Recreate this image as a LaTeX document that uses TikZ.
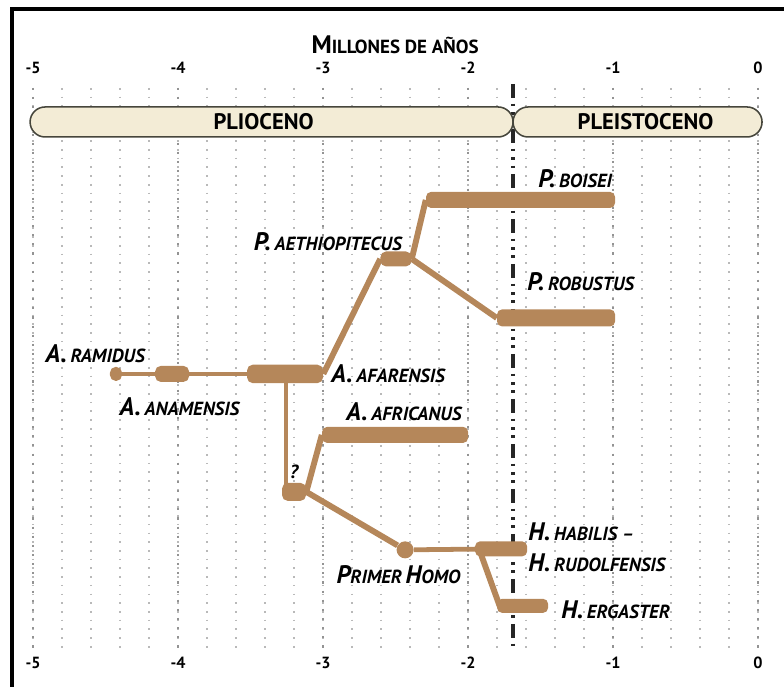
\documentclass[tikz,border=0pt]{standalone}
\usepackage{fontspec}
\setmainfont{PT Sans}
\usetikzlibrary{shapes.misc}
\definecolor{hominid}{RGB}{181,135,90}
\definecolor{epochfill}{RGB}{243,236,214}
\definecolor{epochline}{RGB}{70,70,60}
\newcommand{\bigc}[1]{{\fontsize{18}{18}\selectfont #1}}
\newcommand{\smc}[1]{{\fontsize{13.5}{14}\selectfont #1}}
\newcommand{\taxon}[2]{\bigc{#1} \smc{#2}}
\tikzset{
  blob/.style={fill=hominid,rounded corners=4pt,inner sep=0pt},
  bar/.style={fill=hominid,rounded corners=3.5pt,inner sep=0pt},
  branch/.style={draw=hominid,line width=4.2pt},
  thinbranch/.style={draw=hominid,line width=3.4pt},
  taxa/.style={font=\bfseries\itshape,inner sep=0pt},
  epoch/.style={rounded rectangle,draw=epochline,fill=epochfill,line width=1.1pt,
    minimum height=0.75cm,inner sep=0pt,font=\bfseries\fontsize{16}{16}\selectfont},
  num/.style={font=\bfseries\fontsize{11.5}{12}\selectfont,inner sep=0pt},
  gridline/.style={draw=gray!55,line width=0.8pt,dash pattern=on 1.2pt off 5pt},
  majorline/.style={draw=gray!85,line width=1.2pt,dash pattern=on 1.5pt off 5pt},
  boundary/.style={draw=black!85,line width=2.2pt,
    dash pattern=on 10pt off 4pt on 2pt off 4pt on 2pt off 4pt on 2pt off 4pt},
  frame/.style={draw=black,line width=2.2pt}
}
\begin{document}
\begin{tikzpicture}[x=3.625cm,y={(0,-0.025cm)}]
\useasboundingbox (-5.228,0) rectangle (0.179,687);
% frame
\draw[frame] (-5.145,687) -- (-5.145,9) -- (0.179,9);
% grid
\foreach \i in {0,...,25}
  \draw[gridline] ({-5+0.2*\i},88) -- ({-5+0.2*\i},650);
\foreach \t in {-5,...,0}
  \draw[majorline] (\t,88) -- (\t,650);
% axis
\node[font=\bfseries,inner sep=0pt] (title) at (-2.503,45) {\bigc{M}\fontsize{13.5}{14}\selectfont ILLONES DE AÑOS};
\foreach \t [count=\i] in {-5,...,0} {
  \node[num] (ntop\i) at (\t,68) {\t};
  \node[num] (nbot\i) at (\t,663) {\t};
}
% epochs
\draw[boundary] (-1.69,84) -- (-1.69,652);
\node[epoch,minimum width=12.075cm] (plio) at (-3.355,122) {PLIOCENO\hspace*{0.4cm}};
\node[epoch,minimum width=6.225cm] (pleis) at (-0.831,122) {\hspace*{0.4cm}PLEISTOCENO};
% taxa
\node[blob,minimum width=0.3cm,minimum height=0.35cm] (ramidus) at (-4.428,374) {};
\node[blob,minimum width=0.85cm,minimum height=0.4cm] (anamensis) at (-4.041,374) {};
\node[blob,minimum width=1.9cm,minimum height=0.46cm] (afarensis) at (-3.262,374) {};
\node[blob,minimum width=0.775cm,minimum height=0.375cm] (aethiop) at (-2.497,259) {};
\node[bar,minimum width=4.725cm,minimum height=0.4cm] (boisei) at (-1.638,200) {};
\node[bar,minimum width=2.95cm,minimum height=0.425cm] (robustus) at (-1.393,318) {};
\node[blob,minimum width=0.6cm,minimum height=0.45cm] (q) at (-3.2,492) {};
\node[bar,minimum width=3.65cm,minimum height=0.4cm] (africanus) at (-2.503,435) {};
\node[circle,fill=hominid,minimum size=0.425cm,inner sep=0pt] (primer) at (-2.434,550) {};
\node[bar,minimum width=1.3cm,minimum height=0.375cm] (habilis) at (-1.772,549) {};
\node[bar,minimum width=1.275cm,minimum height=0.35cm] (ergaster) at (-1.624,606) {};
% branches
\draw[thinbranch] (ramidus) -- (anamensis);
\draw[thinbranch] (anamensis) -- (afarensis);
\draw[branch] (afarensis.east) -- (aethiop.west);
\draw[branch] (aethiop.east) -- (boisei.west);
\draw[branch] (aethiop.east) -- (robustus.west);
\draw[thinbranch] ([xshift=3pt]q.west |- afarensis.south) -- ([xshift=3pt]q.west);
\draw[branch] (q.east) -- (africanus.west);
\draw[branch] (q.east) -- (primer);
\draw[thinbranch] (primer) -- (habilis);
\draw[branch] ([xshift=3pt]habilis.west) -- ([xshift=2pt]ergaster.west);
% labels
\node[taxa] (lramidus) at (-4.572,354) {\taxon{A.}{RAMIDUS}};
\node[taxa] (lanamensis) at (-3.99,407) {\taxon{A.}{ANAMENSIS}};
\node[taxa,anchor=west] (lafarensis) at (-2.945,374) {\taxon{A.}{AFARENSIS}};
\node[taxa,anchor=east] (laethiop) at (-2.455,242) {\taxon{P.}{AETHIOPITECUS}};
\node[taxa,anchor=west] (lboisei) at (-1.517,179) {\taxon{P.}{BOISEI}};
\node[taxa,anchor=west] (lrobustus) at (-1.593,282) {\taxon{P.}{ROBUSTUS}};
\node[taxa,anchor=west] (lafricanus) at (-2.841,412) {\taxon{A.}{AFRICANUS}};
\node[taxa] (lq) at (-3.2,472) {\smc{?}};
\node[taxa] (lprimer) at (-2.48,575) {\bigc{P}\smc{RIMER} \bigc{H}\smc{OMO}};
\node[taxa,anchor=west] (lhabilis) at (-1.586,532) {\taxon{H.}{HABILIS --}};
\node[taxa,anchor=west] (lrudolf) at (-1.586,563) {\taxon{H.}{RUDOLFENSIS}};
\node[taxa,anchor=west] (lergaster) at (-1.359,610) {\taxon{H.}{ERGASTER}};
\end{tikzpicture}
\end{document}
